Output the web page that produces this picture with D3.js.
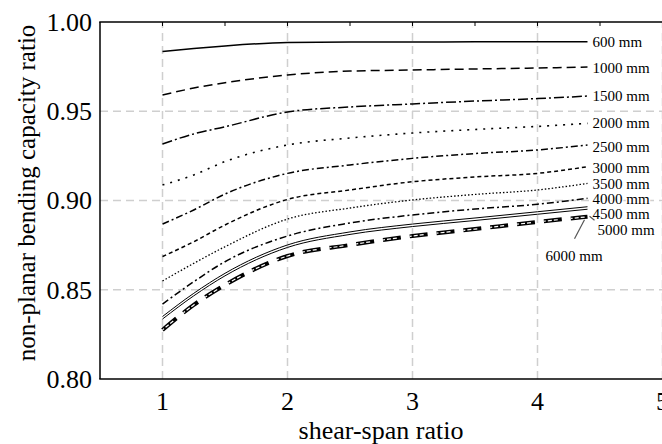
<!DOCTYPE html>
<html>
<head>
<meta charset="utf-8">
<script src="https://cdn.jsdelivr.net/npm/d3@7"></script>
<style>
  body { margin: 0; background: #fff; }
  svg { display: block; font-family: "Liberation Serif", "Times New Roman", serif; }
</style>
</head>
<body>
<div id="chart"></div>
<script>
// 1: DATA
const shearSpan = [1, 1.25, 1.5, 2, 2.5, 3, 3.5, 4, 4.4];

const ratio600  = [0.9835, 0.9852, 0.9866, 0.9885, 0.9888, 0.9888, 0.9889, 0.9889, 0.9889];
const ratio1000 = [0.9591, 0.9630, 0.9660, 0.9703, 0.9725, 0.9731, 0.9737, 0.9742, 0.9748];
const ratio1500 = [0.9317, 0.9373, 0.9413, 0.9496, 0.9524, 0.9541, 0.9557, 0.9571, 0.9585];
const ratio2000 = [0.9087, 0.9143, 0.9218, 0.9311, 0.9350, 0.9378, 0.9398, 0.9415, 0.9432];
const ratio2500 = [0.8868, 0.8947, 0.9036, 0.9152, 0.9199, 0.9236, 0.9263, 0.9283, 0.9311];
const ratio3000 = [0.8686, 0.8769, 0.8863, 0.9006, 0.9059, 0.9105, 0.9132, 0.9152, 0.9189];
const ratio3500 = [0.8549, 0.8648, 0.8741, 0.8896, 0.8958, 0.9003, 0.9034, 0.9059, 0.9096];
const ratio4000 = [0.8420, 0.8545, 0.8657, 0.8801, 0.8874, 0.8919, 0.8952, 0.8979, 0.9012];
const ratio4500 = [0.8350, 0.8480, 0.8592, 0.8751, 0.8824, 0.8868, 0.8902, 0.8937, 0.8965];
const ratio5000 = [0.8336, 0.8466, 0.8578, 0.8737, 0.8810, 0.8854, 0.8888, 0.8923, 0.8951];
const ratio6000 = [0.8275, 0.8415, 0.8527, 0.8689, 0.8751, 0.8801, 0.8840, 0.8880, 0.8909];

const seriesNames = ["600 mm", "1000 mm", "1500 mm", "2000 mm", "2500 mm", "3000 mm",
                     "3500 mm", "4000 mm", "4500 mm", "5000 mm", "6000 mm"];
const seriesValues = [ratio600, ratio1000, ratio1500, ratio2000, ratio2500, ratio3000,
                      ratio3500, ratio4000, ratio4500, ratio5000, ratio6000];

const xTicks = [1, 2, 3, 4, 5];
const xMinorTicks = [1, 1.5, 2, 2.5, 3, 3.5, 4, 4.5, 5];
const yTicks = [0.80, 0.85, 0.90, 0.95, 1.00];

// 2: LAYOUT
const W = 662, H = 444;
const margin = { top: 22, left: 100, bottom: 65 };
const plotH = H - margin.top - margin.bottom;   // 357
const unit = 125;                               // px per shear-span unit

// line styles, one per series
const styles = [
  { dash: null,          w: 1.5 },
  { dash: "9,5",         w: 1.5 },
  { dash: "10,3,2,3",    w: 1.5 },
  { dash: "2,6",         w: 1.6 },
  { dash: "7,3,2,3",     w: 1.5 },
  { dash: "4,3",         w: 1.5 },
  { dash: "1.5,2",       w: 1.3 },
  { dash: "7,3,2,3",     w: 1.5 },
  { dash: null,          w: 1 },
  { dash: null,          w: 1 },
  { dash: "18,9",        w: 4 }
];

// label anchor (pixel offset from line end, baseline)
const labelPos = [
  { dx: 5,  y: 47 },  { dx: 5,  y: 72.5 }, { dx: 5,  y: 101 }, { dx: 5, y: 128 },
  { dx: 5,  y: 152 }, { dx: 5,  y: 173 },  { dx: 5,  y: 189 }, { dx: 5, y: 204 },
  { dx: 5,  y: 219 }, { dx: 10, y: 235 },  { dx: -42, y: 260.5 }
];

const svg = d3.select("#chart").append("svg")
    .attr("width", W)
    .attr("height", H);

// 3: SCALES
const xScale = d3.scaleLinear()
    .domain([0.5, 5.5])
    .range([margin.left, margin.left + 5 * unit]);

const yScale = d3.scaleLinear()
    .domain([0.80, 1.00])
    .range([margin.top + plotH, margin.top]);

// 4: GRID
const grid = svg.append("g").attr("class", "grid")
    .attr("stroke", "#cfcfcf")
    .attr("stroke-width", 1.5)
    .attr("stroke-dasharray", "8,5");

grid.selectAll(".vgrid")
    .data(xTicks)
    .enter().append("line")
    .attr("x1", d => xScale(d)).attr("x2", d => xScale(d))
    .attr("y1", yScale(0.80)).attr("y2", yScale(1.00));

grid.selectAll(".hgrid")
    .data(yTicks.filter(d => d > 0.80 && d < 1.00))
    .enter().append("line")
    .attr("x1", xScale(0.5)).attr("x2", xScale(5.5))
    .attr("y1", d => yScale(d)).attr("y2", d => yScale(d));

// 5: LINES
const line = d3.line()
    .x(d => xScale(d[0]))
    .y(d => yScale(d[1]))
    .curve(d3.curveMonotoneX);

const series = seriesNames.map((name, i) => ({
  name: name,
  values: shearSpan.map((x, j) => [x, seriesValues[i][j]]),
  style: styles[i]
}));

svg.selectAll(".curve")
    .data(series)
    .enter().append("path")
    .attr("class", "curve")
    .attr("d", d => line(d.values))
    .attr("fill", "none")
    .attr("stroke", "#000")
    .attr("stroke-width", d => d.style.w)
    .attr("stroke-dasharray", d => d.style.dash);

// hollow look for the 6000 mm curve
svg.append("path")
    .attr("d", line(series[10].values))
    .attr("fill", "none")
    .attr("stroke", "#fff")
    .attr("stroke-width", 1.2)
    .attr("stroke-dasharray", "2,2,4,2,4,2,0,11");

// 6: AXES (frame)
const axisG = svg.append("g").attr("stroke", "#000").attr("stroke-width", 1.5);
axisG.append("line")
    .attr("x1", xScale(0.5)).attr("x2", xScale(0.5))
    .attr("y1", yScale(0.80)).attr("y2", yScale(1.00));
axisG.append("line")
    .attr("x1", xScale(0.5) - 0.75).attr("x2", xScale(5.5))
    .attr("y1", yScale(0.80)).attr("y2", yScale(0.80));
axisG.append("line")
    .attr("x1", xScale(0.5) - 0.75).attr("x2", xScale(5.5))
    .attr("y1", yScale(1.00)).attr("y2", yScale(1.00));

// small inward ticks on the top edge
axisG.selectAll(".topTick")
    .data(xMinorTicks)
    .enter().append("line")
    .attr("stroke-width", 1)
    .attr("x1", d => xScale(d)).attr("x2", d => xScale(d))
    .attr("y1", yScale(1.00)).attr("y2", yScale(1.00) + 4);

// tick labels
svg.selectAll(".ytick")
    .data(yTicks)
    .enter().append("text")
    .attr("x", margin.left - 8)
    .attr("y", d => yScale(d))
    .attr("dy", "0.34em")
    .attr("text-anchor", "end")
    .style("font-size", "26px")
    .text(d3.format(".2f"));

svg.selectAll(".xtick")
    .data(xTicks)
    .enter().append("text")
    .attr("x", d => xScale(d))
    .attr("y", 410)
    .attr("text-anchor", "middle")
    .style("font-size", "26px")
    .text(d => d);

// axis titles
svg.append("text")
    .attr("x", 381)
    .attr("y", 439)
    .attr("text-anchor", "middle")
    .style("font-size", "26px")
    .text("shear-span ratio");

svg.append("text")
    .attr("transform", "translate(35,193) rotate(-90)")
    .attr("text-anchor", "middle")
    .style("font-size", "25px")
    .text("non-planar bending capacity ratio");

// 7: SERIES LABELS
const lastX = shearSpan[shearSpan.length - 1];
svg.selectAll(".serieslabel")
    .data(series)
    .enter().append("text")
    .attr("x", (d, i) => xScale(lastX) + labelPos[i].dx)
    .attr("y", (d, i) => labelPos[i].y)
    .style("font-size", "15px")
    .style("paint-order", "stroke")
    .attr("stroke", "#fff")
    .attr("stroke-width", 3)
    .attr("fill", "#000")
    .text(d => d.name);

// leader lines for 5000 mm and 6000 mm
const leaders = svg.append("g").attr("stroke", "#555").attr("stroke-width", 1.2);
leaders.append("line")
    .attr("x1", xScale(lastX) + 2).attr("y1", yScale(ratio5000[8]) + 7)
    .attr("x2", xScale(lastX) + 7).attr("y2", yScale(ratio5000[8]) + 11);
leaders.append("line")
    .attr("x1", xScale(lastX) - 3).attr("y1", yScale(ratio6000[8]) + 3)
    .attr("x2", xScale(lastX) - 13).attr("y2", yScale(ratio6000[8]) + 22);
</script>
</body>
</html>
